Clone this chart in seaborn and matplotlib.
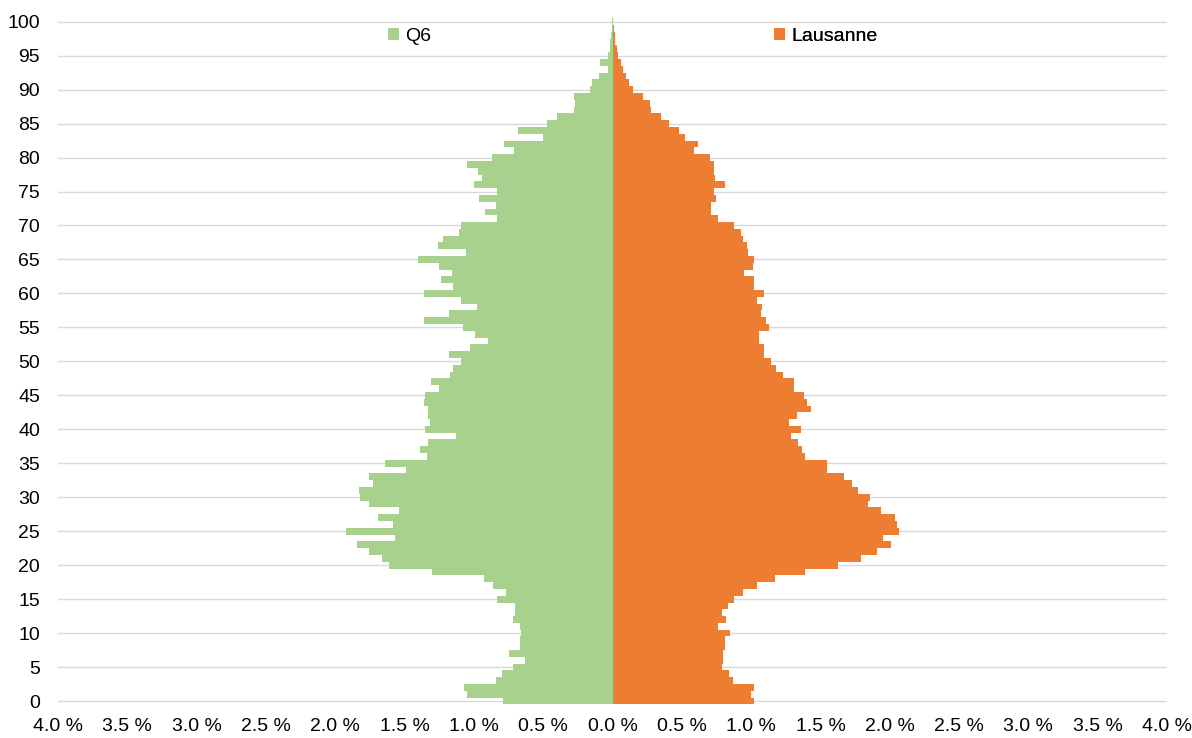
import numpy as np
import pandas as pd
import matplotlib
matplotlib.use("Agg")
import matplotlib.pyplot as plt
import seaborn as sns
from matplotlib.patches import Patch
from matplotlib.ticker import FuncFormatter, MultipleLocator

ages = list(range(0, 101))

q6 = [0.79, 1.05, 1.07, 0.84, 0.80, 0.72, 0.63, 0.75, 0.67, 0.67,
      0.66, 0.67, 0.72, 0.70, 0.70, 0.83, 0.77, 0.86, 0.93, 1.30,
      1.61, 1.66, 1.76, 1.84, 1.57, 1.92, 1.58, 1.69, 1.54, 1.76,
      1.82, 1.83, 1.73, 1.76, 1.49, 1.64, 1.34, 1.39, 1.33, 1.13,
      1.35, 1.32, 1.33, 1.33, 1.36, 1.35, 1.25, 1.31, 1.17, 1.15,
      1.09, 1.18, 1.03, 0.90, 0.99, 1.08, 1.36, 1.18, 0.98, 1.09,
      1.36, 1.15, 1.24, 1.16, 1.25, 1.40, 1.06, 1.26, 1.22, 1.11,
      1.09, 0.83, 0.92, 0.84, 0.96, 0.83, 1.00, 0.94, 0.97, 1.05,
      0.87, 0.71, 0.78, 0.50, 0.68, 0.47, 0.40, 0.28, 0.27, 0.28,
      0.16, 0.15, 0.10, 0.03, 0.09, 0.03, 0.02, 0.02, 0.01, 0.006, 0.003]

lausanne = [1.02, 1.00, 1.02, 0.87, 0.84, 0.79, 0.80, 0.80, 0.81, 0.81,
            0.85, 0.76, 0.82, 0.79, 0.83, 0.88, 0.94, 1.04, 1.17, 1.39,
            1.63, 1.79, 1.91, 2.01, 1.95, 2.07, 2.05, 2.04, 1.94, 1.84,
            1.86, 1.77, 1.73, 1.67, 1.55, 1.55, 1.39, 1.37, 1.34, 1.29,
            1.36, 1.27, 1.33, 1.43, 1.40, 1.38, 1.31, 1.31, 1.23, 1.18,
            1.14, 1.09, 1.09, 1.06, 1.06, 1.13, 1.11, 1.07, 1.08, 1.04,
            1.09, 1.02, 1.02, 0.95, 1.01, 1.02, 0.98, 0.97, 0.94, 0.93,
            0.88, 0.76, 0.71, 0.71, 0.75, 0.73, 0.81, 0.74, 0.73, 0.73,
            0.70, 0.59, 0.62, 0.52, 0.48, 0.41, 0.35, 0.28, 0.27, 0.22,
            0.15, 0.12, 0.10, 0.074, 0.058, 0.04, 0.03, 0.02, 0.015, 0.01, 0.005]

series_names = ["Q6", "Lausanne"]
colors = {"Q6": "#A9D18E", "Lausanne": "#ED7D31"}
x_ticks = np.arange(-4.0, 4.01, 0.5)

df = pd.concat([
    pd.DataFrame({"age": ages, "pct": [-v for v in q6], "series": "Q6"}),
    pd.DataFrame({"age": ages, "pct": lausanne, "series": "Lausanne"}),
], ignore_index=True)

sns.set_theme(style="white")
plt.rcParams["font.family"] = ["Liberation Sans Narrow", "Liberation Sans", "DejaVu Sans"]
plt.rcParams["text.color"] = "#000000"

fig = plt.figure(figsize=(11.92, 7.38), dpi=100)
ax = fig.add_axes([58 / 1192, 1 - 704.4 / 738, 1109 / 1192, 686.1 / 738])

sns.barplot(data=df, x="pct", y="age", hue="series", orient="h",
            native_scale=True, width=1.0, dodge=False, palette=colors,
            saturation=1, legend=False, linewidth=0, ax=ax, zorder=2)

ax.set_xlim(-4.0, 4.0)
ax.set_ylim(-0.5, 100.5)
ax.set_xticks(x_ticks)
ax.xaxis.set_major_formatter(FuncFormatter(lambda v, p: f"{abs(v):.1f} %"))
ax.yaxis.set_major_locator(MultipleLocator(5))
ax.yaxis.set_major_formatter(FuncFormatter(lambda v, p: f"{int(round(v))}"))
ax.grid(axis="y", color="#D9D9D9", linewidth=1.0, zorder=0)
ax.grid(axis="x", visible=False)
ax.set_axisbelow(True)
for s in ax.spines.values():
    s.set_visible(False)
ax.tick_params(axis="y", length=0, pad=13, labelsize=14, labelcolor="#000000")
ax.tick_params(axis="x", length=0, pad=10, labelsize=14, labelcolor="#000000")
ax.set_xlabel("")
ax.set_ylabel("")

for name, xpos in [("Q6", 0.298), ("Lausanne", 0.646)]:
    leg = ax.legend(handles=[Patch(facecolor=colors[name], edgecolor="none", label=name)],
                    loc="center left", bbox_to_anchor=(xpos, 0.974), frameon=False,
                    fontsize=14, handlelength=0.55, handleheight=0.55,
                    handletextpad=0.3, borderpad=0, borderaxespad=0,
                    labelcolor="#000000")
    ax.add_artist(leg)

fig.savefig("out.png", dpi=100)
